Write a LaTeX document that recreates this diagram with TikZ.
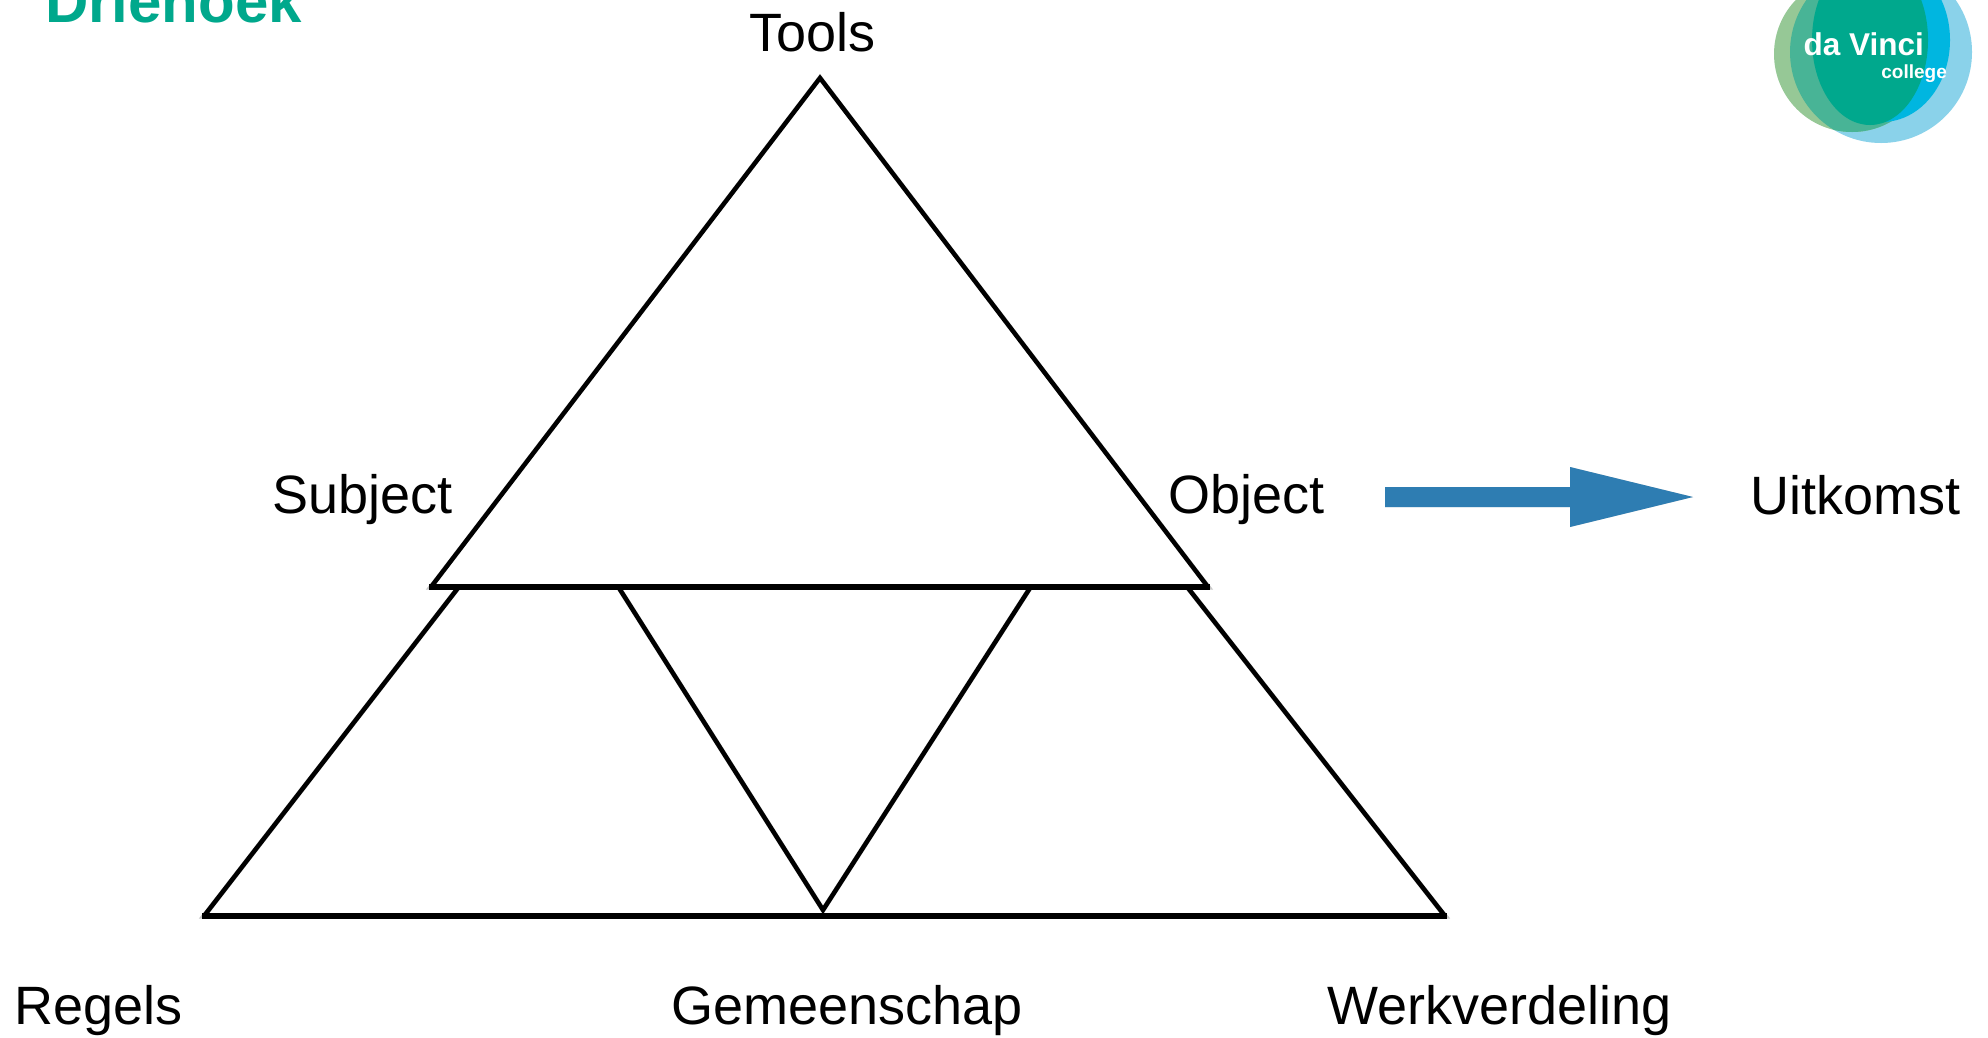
\documentclass[tikz,border=0pt]{standalone}
\usepackage{fontspec}
\setmainfont{Liberation Sans}
\definecolor{titleteal}{RGB}{0,168,140}
\definecolor{arrowblue}{RGB}{46,125,178}
\definecolor{logolblue}{RGB}{138,210,234}
\definecolor{logolgreen}{RGB}{150,200,150}
\definecolor{logomgreen}{RGB}{72,180,150}
\definecolor{logocyan}{RGB}{0,182,224}
\definecolor{logoteal}{RGB}{0,168,141}
\begin{document}
\begin{tikzpicture}[x=1pt,y=-1pt,
  edge/.style={line width=4.5pt, line join=miter, line cap=butt, draw=black},
  baseline edge/.style={line width=5.5pt, draw=black, line cap=butt},
  shade edge/.style={line width=5pt, draw=black!22, line join=miter, shift={(1.5,2.5)}},
  lbl/.style={anchor=base west, inner sep=0pt, font=\fontsize{54}{60}\selectfont},
]
\useasboundingbox (0,0) rectangle (1988,1037);
\clip (0,0) rectangle (1988,1037);
\fill[white] (0,0) rectangle (1988,1037);

% title
\node[anchor=base west, inner sep=0pt, text=titleteal,
      font=\fontsize{60}{66}\selectfont\bfseries] (title) at (45,22) {Driehoek};

% logo
\fill[logolblue] (1881,52) circle (91pt);
\fill[logolgreen] (1852,54) circle (78pt);
\begin{scope}
  \clip (1881,52) circle (91pt);
  \fill[logomgreen] (1852,54) circle (78pt);
\end{scope}
\fill[logocyan] (1882,40) ellipse (68pt and 82pt);
\fill[logoteal] (1870,40) ellipse (58pt and 85pt);
\node[anchor=base east, inner sep=0pt, text=white,
      font=\fontsize{31.5}{34}\selectfont\bfseries] (davinci) at (1924,55) {da Vinci};
\node[anchor=base east, inner sep=0pt, text=white,
      font=\fontsize{19}{21}\selectfont\bfseries] (college) at (1947,78) {college};

% coordinates
\coordinate (apex) at (820,78);
\coordinate (tl) at (431,587);
\coordinate (tr) at (1208,587);
\coordinate (ol) at (458,588);
\coordinate (or) at (1188,588);
\coordinate (bl) at (204,916);
\coordinate (br) at (1445,916);
\coordinate (il) at (619,588);
\coordinate (ir) at (1030,588);
\coordinate (ib) at (823,910);

% faint shadows
\draw[shade edge] (ol) -- (bl) -- (br) -- (or);
\draw[shade edge] (il) -- (ib) -- (ir);
\draw[shade edge] (tl) -- (apex) -- (tr) -- cycle;

% lower shape
\draw[edge] (ol) -- (bl);
\draw[edge] (or) -- (br);
\draw[baseline edge] ([xshift=-2pt]bl) -- ([xshift=2pt]br);
\draw[edge] (il) -- (ib) -- (ir);

% top triangle
\fill[white] (tl) -- (apex) -- (tr) -- cycle;
\draw[edge] (tl) -- (apex) -- (tr);
\draw[baseline edge] ([xshift=-2pt]tl) -- ([xshift=2pt]tr);

% arrow
\coordinate (arrS) at (1385,497);
\coordinate (arrN) at (1570,497);
\coordinate (arrT) at (1693,497);
\fill[black!18, shift={(1.5,2.5)}] ([yshift=-10pt]arrS) -- ([yshift=-10pt]arrN) -- ([yshift=-30pt]arrN)
  -- (arrT) -- ([yshift=30pt]arrN) -- ([yshift=10pt]arrN) -- ([yshift=10pt]arrS) -- cycle;
\fill[arrowblue] ([yshift=-10pt]arrS) -- ([yshift=-10pt]arrN) -- ([yshift=-30pt]arrN)
  -- (arrT) -- ([yshift=30pt]arrN) -- ([yshift=10pt]arrN) -- ([yshift=10pt]arrS) -- cycle;

% labels
\node[lbl] (tools) at (749,51) {Tools};
\node[lbl] (subject) at (272,513) {Subject};
\node[lbl] (object) at (1168,513) {Object};
\node[lbl] (uitkomst) at (1750,514) {Uitkomst};
\node[lbl] (regels) at (14,1024) {Regels};
\node[lbl] (gemeenschap) at (671,1024) {Gemeenschap};
\node[lbl] (werk) at (1327,1024) {Werkverdeling};
\end{tikzpicture}
\end{document}
